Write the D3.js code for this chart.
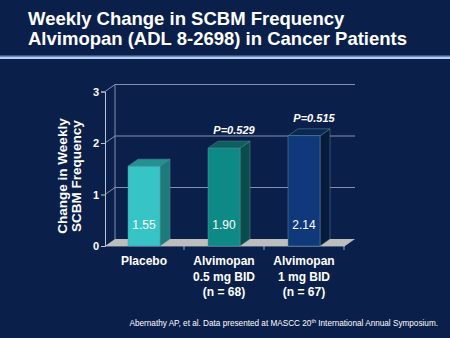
<!DOCTYPE html>
<html>
<head>
<meta charset="utf-8">
<script src="https://cdn.jsdelivr.net/npm/d3@7"></script>
<style>
  html, body { margin: 0; padding: 0; background: #0b1f4b; }
  svg { display: block; font-family: "Liberation Sans", Arial, sans-serif; }
</style>
</head>
<body>
<svg id="chart" width="450" height="338"></svg>
<script>
// chart data
const categories = ["Placebo", "Alvimopan 0.5 mg BID", "Alvimopan 1 mg BID"];
const categoryLines = [["Placebo"], ["Alvimopan", "0.5 mg BID", "(n = 68)"], ["Alvimopan", "1 mg BID", "(n = 67)"]];
const changes = [1.55, 1.90, 2.14];
const pValues = [null, "P=0.529", "P=0.515"];
const yTicks = [0, 1, 2, 3];

const frontColors = ["#36c4c6", "#0e8a86", "#0f397a"];
const sideColors = ["#1c7b7a", "#0b4c4c", "#081b3c"];
const topColors = ["#23918f", "#0d5f5e", "#0b2754"];

const svg = d3.select("#chart");
const W = 450, H = 338;

// depth offset of the 3D box
const dx = 10, dy = -7;

svg.append("rect").attr("width", W).attr("height", H).attr("fill", "#0b1f4b");

// title
const title = svg.append("g")
    .attr("fill", "#ffffff")
    .style("font-weight", "bold")
    .style("font-size", "18.5px");
title.append("text").attr("x", 28).attr("y", 25).text("Weekly Change in SCBM Frequency");
title.append("text").attr("x", 28).attr("y", 45).text("Alvimopan (ADL 8-2698) in Cancer Patients");

// separator rule under the title
svg.append("rect").attr("x", 0).attr("y", 55.5).attr("width", W).attr("height", 1.2).attr("fill", "#6a8cc4");
svg.append("rect").attr("x", 0).attr("y", 56.7).attr("width", W).attr("height", 2.3).attr("fill", "#b2d0f4");

// scales
const x = d3.scaleBand()
    .domain(categories)
    .range([104, 344])
    .paddingInner(0.6)
    .paddingOuter(0.3);

const y = d3.scaleLinear()
    .domain([0, 3])
    .range([246, 91.5]);

const x0 = 105, xEnd = 345;
const grid = svg.append("g");

// back wall gridlines
yTicks.filter(d => d > 0).forEach(t => {
    grid.append("path")
        .attr("d", `M${x0},${y(t)} L${x0 + dx},${y(t) + dy} L${xEnd + dx},${y(t) + dy}`)
        .attr("fill", "none")
        .attr("stroke", "#8d9dbb")
        .attr("stroke-width", 0.9);
});
grid.append("line")
    .attr("x1", x0 + dx).attr("x2", x0 + dx)
    .attr("y1", y(0) + dy).attr("y2", y(3) + dy)
    .attr("stroke", "#8d9dbb").attr("stroke-width", 0.9);

// floor
grid.append("path")
    .attr("d", `M${x0},${y(0)} L${x0 + dx},${y(0) + dy} L${xEnd + dx},${y(0) + dy} L${xEnd},${y(0)} Z`)
    .attr("fill", "#bdbdbd");

// y axis
const yAxis = svg.append("g")
    .attr("transform", `translate(${x0},0)`)
    .call(d3.axisLeft(y).tickValues(yTicks).tickFormat(d3.format("d")).tickSize(4).tickPadding(2));
yAxis.select(".domain").attr("stroke", "#b8c4d8");
yAxis.selectAll(".tick line").attr("stroke", "#b8c4d8");
yAxis.selectAll(".tick text")
    .attr("fill", "#ffffff")
    .style("font-size", "11px")
    .style("font-weight", "bold")
    .style("font-family", "Liberation Sans, Arial, sans-serif");

// x axis line with category separators
svg.append("line")
    .attr("x1", x0).attr("x2", xEnd)
    .attr("y1", y(0)).attr("y2", y(0))
    .attr("stroke", "#b8c4d8").attr("stroke-width", 0.8);
const step = x.step();
d3.range(1, categories.length + 1).forEach(i => {
    const tx = 104 + i * step;
    svg.append("line")
        .attr("x1", tx).attr("x2", tx)
        .attr("y1", y(0)).attr("y2", y(0) + 4)
        .attr("stroke", "#b8c4d8").attr("stroke-width", 0.8);
});

// 3D bars
const bars = svg.selectAll(".bar")
    .data(categories)
    .enter()
    .append("g")
    .attr("class", "bar");

bars.each(function(c, i) {
    const g = d3.select(this);
    const bx = x(c), bw = x.bandwidth();
    const top = y(changes[i]), base = y(0);
    // side face
    g.append("path")
        .attr("d", `M${bx + bw},${base} L${bx + bw + dx},${base + dy} L${bx + bw + dx},${top + dy} L${bx + bw},${top} Z`)
        .attr("fill", sideColors[i])
        .attr("stroke", "#5f8e9a").attr("stroke-width", 0.5);
    // top face
    g.append("path")
        .attr("d", `M${bx},${top} L${bx + dx},${top + dy} L${bx + bw + dx},${top + dy} L${bx + bw},${top} Z`)
        .attr("fill", topColors[i])
        .attr("stroke", "#5f8e9a").attr("stroke-width", 0.5);
    // front face
    g.append("rect")
        .attr("x", bx).attr("y", top)
        .attr("width", bw).attr("height", base - top)
        .attr("fill", frontColors[i])
        .attr("stroke", "#5f8e9a").attr("stroke-width", 0.5);
    // value label
    g.append("text")
        .attr("x", bx + bw / 2)
        .attr("y", 229)
        .attr("text-anchor", "middle")
        .attr("fill", "#ffffff")
        .style("font-size", "12px")
        .text(changes[i].toFixed(2));
    // p-value above the bar
    if (pValues[i]) {
        g.append("text")
            .attr("x", bx + bw / 2 + dx)
            .attr("y", top - 14)
            .attr("text-anchor", "middle")
            .attr("fill", "#ffffff")
            .style("font-size", "11px")
            .style("font-weight", "bold")
            .style("font-style", "italic")
            .text(pValues[i]);
    }
});

// category labels
const xl = svg.append("g")
    .attr("fill", "#ffffff")
    .style("font-size", "12px")
    .style("font-weight", "bold");
categories.forEach((c, i) => {
    const t = xl.append("text")
        .attr("x", x(c) + x.bandwidth() / 2)
        .attr("y", 265)
        .attr("text-anchor", "middle");
    categoryLines[i].forEach((ln, j) => {
        t.append("tspan")
            .attr("x", x(c) + x.bandwidth() / 2)
            .attr("dy", j === 0 ? 0 : 15.5)
            .text(ln);
    });
});

// y axis title
const yt = svg.append("text")
    .attr("transform", "translate(67,176) rotate(-90)")
    .attr("text-anchor", "middle")
    .attr("fill", "#ffffff")
    .style("font-size", "13.5px")
    .style("font-weight", "bold");
yt.append("tspan").attr("x", 0).attr("dy", 0).text("Change in Weekly");
yt.append("tspan").attr("x", 0).attr("dy", 13.5).text("SCBM Frequency");

// source note
const note = svg.append("text")
    .attr("x", 438)
    .attr("y", 326)
    .attr("text-anchor", "end")
    .attr("fill", "#ffffff")
    .style("font-size", "8.2px");
note.append("tspan").text("Abernathy AP, et al. Data presented at MASCC 20");
note.append("tspan").attr("dy", -3).style("font-size", "5.5px").text("th");
note.append("tspan").attr("dy", 3).text(" International Annual Symposium.");
</script>
</body>
</html>
